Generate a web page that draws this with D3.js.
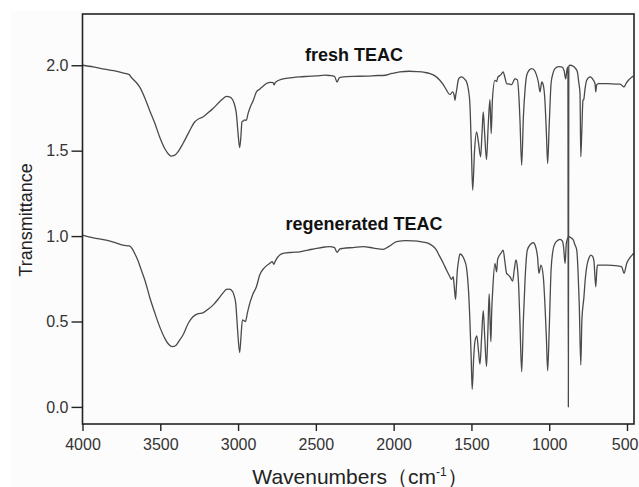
<!DOCTYPE html>
<html>
<head>
<meta charset="utf-8">
<script src="https://cdn.jsdelivr.net/npm/d3@7"></script>
<style>
  body { margin: 0; background: #fff; }
  svg { display: block; font-family: "Liberation Sans", Arial, sans-serif; }
</style>
</head>
<body>
<svg id="chart" width="639" height="487"></svg>
<script>
// fresh TEAC spectrum (wavenumber, transmittance)
const freshWn = [4000, 3930, 3858, 3800, 3741, 3700, 3687, 3660, 3633, 3600, 3569, 3535, 3504, 3470, 3445, 3429, 3410, 3385, 3354, 3315, 3279, 3250, 3226, 3195, 3161, 3120, 3090, 3075, 3055, 3033, 3020, 3011, 3000, 2990, 2982, 2975, 2965, 2958, 2947, 2935, 2925, 2900, 2882, 2861, 2840, 2818, 2790, 2775, 2768, 2760, 2711, 2650, 2604, 2550, 2496, 2440, 2411, 2380, 2364, 2350, 2335, 2260, 2174, 2100, 2068, 2010, 1960, 1900, 1853, 1800, 1767, 1730, 1703, 1680, 1660, 1638, 1621, 1610, 1606, 1600, 1595, 1585, 1578, 1563, 1545, 1531, 1520, 1510, 1500, 1492, 1480, 1467, 1455, 1441, 1432, 1424, 1415, 1403, 1392, 1381, 1373, 1365, 1349, 1338, 1330, 1310, 1296, 1285, 1274, 1255, 1241, 1228, 1220, 1205, 1195, 1188, 1177, 1166, 1155, 1145, 1128, 1113, 1095, 1085, 1070, 1059, 1048, 1038, 1028, 1018, 1010, 1000, 988, 975, 963, 940, 920, 905, 894, 886, 880, 877, 874, 866, 845, 830, 819, 810, 802, 797, 791, 783, 778, 770, 759, 737, 716, 705, 701, 695, 684, 630, 560, 544, 530, 519, 505, 491, 470, 459];
const freshT = [2.00, 1.99, 1.977, 1.968, 1.955, 1.945, 1.93, 1.905, 1.873, 1.81, 1.737, 1.66, 1.58, 1.51, 1.478, 1.468, 1.472, 1.495, 1.542, 1.61, 1.668, 1.688, 1.697, 1.72, 1.747, 1.785, 1.81, 1.818, 1.815, 1.795, 1.76, 1.717, 1.6, 1.518, 1.58, 1.668, 1.675, 1.68, 1.678, 1.72, 1.747, 1.8, 1.844, 1.86, 1.877, 1.893, 1.9, 1.898, 1.885, 1.9, 1.92, 1.928, 1.932, 1.935, 1.938, 1.942, 1.94, 1.935, 1.902, 1.925, 1.93, 1.935, 1.936, 1.94, 1.94, 1.952, 1.961, 1.965, 1.963, 1.958, 1.951, 1.935, 1.912, 1.885, 1.854, 1.828, 1.844, 1.82, 1.795, 1.83, 1.854, 1.912, 1.925, 1.932, 1.92, 1.902, 1.86, 1.776, 1.5, 1.269, 1.5, 1.61, 1.55, 1.464, 1.6, 1.727, 1.6, 1.448, 1.65, 1.799, 1.6, 1.8, 1.912, 1.905, 1.93, 1.945, 1.961, 1.93, 1.893, 1.89, 1.887, 1.91, 1.92, 1.915, 1.82, 1.678, 1.415, 1.697, 1.86, 1.94, 1.972, 1.98, 1.97, 1.951, 1.902, 1.844, 1.902, 1.883, 1.8, 1.6, 1.425, 1.65, 1.893, 1.955, 1.98, 1.992, 1.99, 1.971, 1.92, 1.975, 1.99, 0.0, 1.995, 2.0, 1.994, 1.98, 1.961, 1.9, 1.834, 1.464, 1.6, 1.795, 1.8, 1.86, 1.912, 1.932, 1.912, 1.89, 1.844, 1.885, 1.893, 1.893, 1.889, 1.889, 1.88, 1.873, 1.895, 1.912, 1.93, 1.936];

// regenerated TEAC spectrum
const regenWn = [4000, 3930, 3848, 3790, 3741, 3698, 3680, 3665, 3645, 3622, 3595, 3569, 3535, 3504, 3470, 3445, 3423, 3400, 3380, 3354, 3320, 3290, 3260, 3226, 3195, 3161, 3120, 3090, 3075, 3058, 3043, 3025, 3015, 3003, 2990, 2982, 2972, 2962, 2953, 2940, 2925, 2905, 2882, 2861, 2830, 2797, 2780, 2770, 2760, 2711, 2650, 2604, 2550, 2496, 2440, 2411, 2380, 2364, 2345, 2325, 2260, 2196, 2130, 2068, 2030, 1981, 1920, 1874, 1820, 1767, 1730, 1703, 1680, 1660, 1640, 1628, 1617, 1610, 1602, 1597, 1592, 1582, 1574, 1557, 1545, 1531, 1520, 1510, 1502, 1495, 1486, 1478, 1465, 1455, 1445, 1435, 1424, 1414, 1403, 1394, 1386, 1380, 1375, 1370, 1362, 1349, 1338, 1332, 1325, 1310, 1296, 1285, 1274, 1260, 1252, 1235, 1225, 1214, 1205, 1196, 1188, 1177, 1166, 1155, 1141, 1120, 1102, 1085, 1075, 1066, 1053, 1038, 1025, 1018, 1010, 1000, 988, 975, 963, 945, 930, 915, 908, 898, 890, 880, 874, 860, 845, 835, 823, 815, 807, 797, 790, 777, 768, 759, 745, 733, 720, 712, 701, 694, 690, 630, 560, 534, 519, 502, 480, 463, 457];
const regenT = [1.006, 0.99, 0.977, 0.962, 0.947, 0.942, 0.925, 0.899, 0.86, 0.801, 0.73, 0.645, 0.55, 0.47, 0.4, 0.365, 0.353, 0.36, 0.385, 0.421, 0.49, 0.528, 0.545, 0.551, 0.57, 0.596, 0.64, 0.675, 0.688, 0.69, 0.684, 0.65, 0.606, 0.45, 0.318, 0.4, 0.509, 0.505, 0.499, 0.55, 0.606, 0.66, 0.703, 0.772, 0.815, 0.84, 0.85, 0.835, 0.855, 0.899, 0.905, 0.908, 0.918, 0.928, 0.936, 0.938, 0.932, 0.905, 0.925, 0.928, 0.933, 0.938, 0.93, 0.922, 0.94, 0.967, 0.973, 0.972, 0.966, 0.953, 0.925, 0.88, 0.84, 0.801, 0.765, 0.747, 0.762, 0.7, 0.63, 0.7, 0.782, 0.86, 0.895, 0.883, 0.86, 0.811, 0.7, 0.509, 0.3, 0.103, 0.28, 0.38, 0.415, 0.33, 0.251, 0.4, 0.563, 0.4, 0.236, 0.45, 0.661, 0.5, 0.382, 0.55, 0.703, 0.84, 0.791, 0.86, 0.879, 0.9, 0.918, 0.85, 0.782, 0.77, 0.762, 0.737, 0.8, 0.86, 0.82, 0.7, 0.489, 0.206, 0.509, 0.75, 0.918, 0.952, 0.961, 0.93, 0.879, 0.782, 0.83, 0.762, 0.55, 0.4, 0.212, 0.45, 0.801, 0.92, 0.957, 0.975, 0.981, 0.97, 0.938, 0.84, 0.957, 0.99, 0.996, 0.99, 0.977, 0.95, 0.918, 0.8, 0.606, 0.246, 0.509, 0.641, 0.75, 0.82, 0.87, 0.889, 0.88, 0.85, 0.703, 0.8, 0.83, 0.83, 0.825, 0.82, 0.782, 0.84, 0.875, 0.893, 0.9];

const xTicks = [4000, 3500, 3000, 2500, 2000, 1500, 1000, 500];
const yTicks = [0.0, 0.5, 1.0, 1.5, 2.0];
const seriesLabels = ['fresh TEAC', 'regenerated TEAC'];

const svg = d3.select('#chart');
const plot = { left: 82.5, right: 634, top: 14, bottom: 424 };

// faint paper tone of the scanned figure
svg.append('rect')
    .attr('x', 11).attr('y', 11)
    .attr('width', 628).attr('height', 476)
    .attr('fill', '#fcfcfc');

const x = d3.scaleLinear().domain([4000, 455]).range([plot.left, plot.right]);
const y = d3.scaleLinear().domain([-0.1, 2.3]).range([plot.bottom, plot.top]);

const line = d3.line()
    .x(d => x(d[0]))
    .y(d => y(d[1]))
    .curve(d3.curveMonotoneX);

const fresh = freshWn.map((w, i) => [w, freshT[i]]);
const regen = regenWn.map((w, i) => [w, regenT[i]]);

[fresh, regen].forEach(data => {
    svg.append('path')
        .datum(data)
        .attr('fill', 'none')
        .attr('stroke', '#4a4a4a')
        .attr('stroke-width', 1.3)
        .attr('stroke-linejoin', 'round')
        .attr('d', line);
});

// frame
svg.append('rect')
    .attr('x', plot.left).attr('y', plot.top)
    .attr('width', plot.right - plot.left).attr('height', plot.bottom - plot.top)
    .attr('fill', 'none')
    .attr('stroke', '#222')
    .attr('stroke-width', 1.6);

const xAxis = svg.append('g')
    .attr('transform', 'translate(0,' + plot.bottom + ')')
    .call(d3.axisBottom(x).tickValues(xTicks).tickFormat(d3.format('d'))
        .tickSize(7).tickSizeOuter(0).tickPadding(8));

const yAxis = svg.append('g')
    .attr('transform', 'translate(' + plot.left + ',0)')
    .call(d3.axisLeft(y).tickValues(yTicks).tickFormat(d3.format('.1f'))
        .tickSize(11).tickSizeOuter(0).tickPadding(3));

[xAxis, yAxis].forEach(g => {
    g.select('.domain').remove();
    g.selectAll('.tick line').attr('stroke', '#222').attr('stroke-width', 1.4);
    g.selectAll('.tick text')
        .attr('fill', '#333')
        .style('font-size', '16px')
        .style('font-family', '"Liberation Sans", Arial, sans-serif');
});

// last x label sits against the right edge of the figure
xAxis.selectAll('.tick text')
    .filter(d => d === 500)
    .attr('text-anchor', 'end')
    .attr('x', 11);

// series labels
svg.append('text')
    .attr('x', 354).attr('y', 61)
    .attr('text-anchor', 'middle')
    .attr('font-weight', 'bold')
    .attr('font-size', 18)
    .attr('fill', '#111')
    .text(seriesLabels[0]);

svg.append('text')
    .attr('x', 364).attr('y', 230)
    .attr('text-anchor', 'middle')
    .attr('font-weight', 'bold')
    .attr('font-size', 18)
    .attr('fill', '#111')
    .text(seriesLabels[1]);

// axis titles
svg.append('text')
    .attr('transform', 'translate(32,220) rotate(-90)')
    .attr('text-anchor', 'middle')
    .attr('font-size', 18)
    .attr('fill', '#222')
    .text('Transmittance');

const xt = svg.append('text')
    .attr('x', 360).attr('y', 484)
    .attr('text-anchor', 'middle')
    .attr('font-size', 21)
    .attr('fill', '#222');
xt.append('tspan').text('Wavenumbers\uFF08cm');
xt.append('tspan').attr('dy', -8).attr('font-size', 12).text('-1');
xt.append('tspan').attr('dy', 8).text('\uFF09');
</script>
</body>
</html>
